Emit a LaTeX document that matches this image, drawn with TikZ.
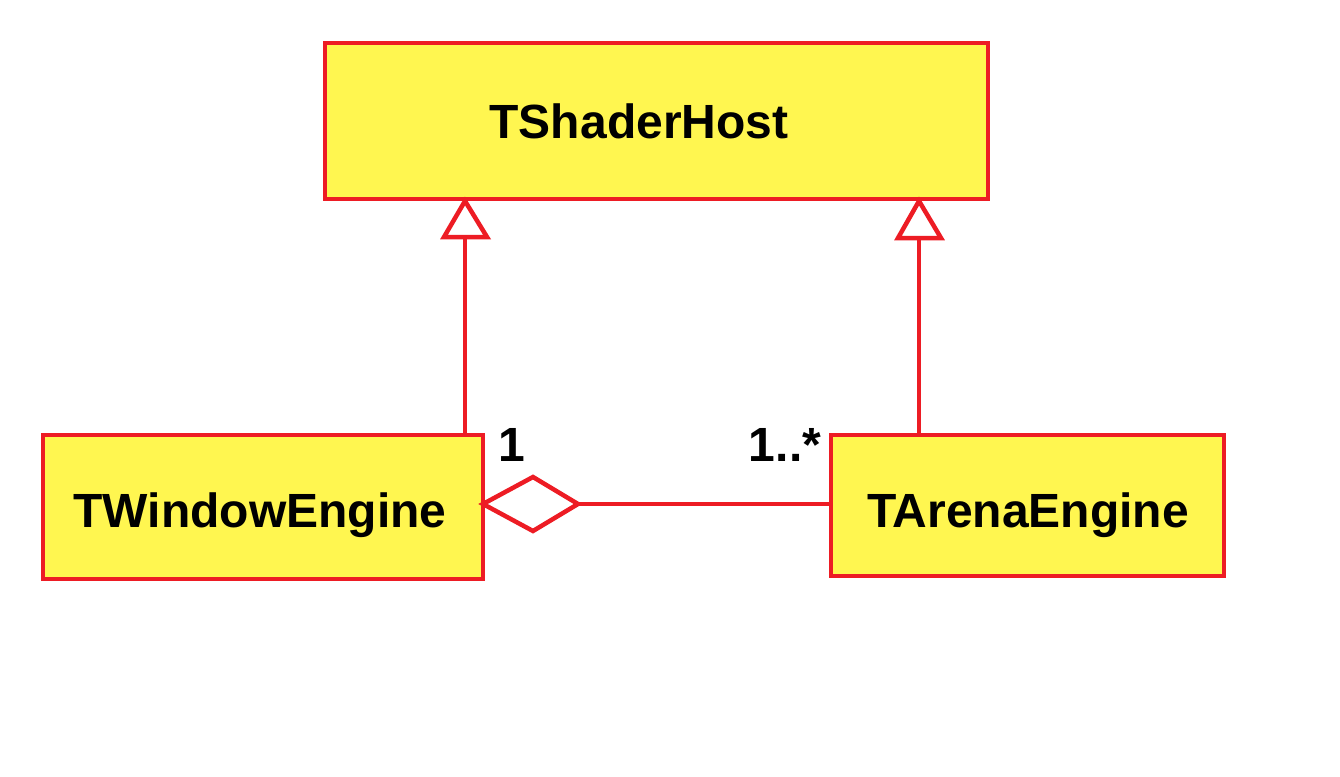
\documentclass[tikz,border=0pt]{standalone}
\usepackage{fontspec}
\setmainfont{Liberation Sans}
\definecolor{pred}{HTML}{ED1C24}
\definecolor{pyel}{HTML}{FFF650}
\begin{document}
\begin{tikzpicture}[x=1pt,y=-1pt,
  box/.style={draw=pred, fill=pyel, line width=4.5pt, inner sep=0pt},
  lbl/.style={font=\fontsize{48}{50}\selectfont\bfseries, anchor=base, inner sep=0pt},
  conn/.style={draw=pred, line width=4.5pt},
  tri/.style={draw=pred, line width=4.5pt, fill=white, line join=miter}]
\useasboundingbox (0,0) rectangle (1340,776);
\node[box, minimum width=663pt, minimum height=156pt] (host) at (656.5,121) {};
\node[box, minimum width=440pt, minimum height=144pt] (win) at (263,507) {};
\node[box, minimum width=393pt, minimum height=141pt] (arena) at (1027.5,505.5) {};
\node[lbl] (thost) at (639,138) {TShaderHost};
\node[lbl] (twin) at (260,527) {TWindowEngine};
\node[lbl] (tarena) at (1028,527) {TArenaEngine};
% inheritance left
\coordinate (la) at (465,201);
\coordinate (lb) at (465,237);
\draw[conn] (win.north -| lb) -- (lb);
\draw[tri] (la) -- (444,237) -- (487,237) -- cycle;
% inheritance right
\coordinate (ra) at (919,201);
\coordinate (rb) at (919,238);
\draw[conn] (arena.north -| rb) -- (rb);
\draw[tri] (ra) -- (898,238) -- (941,238) -- cycle;
% aggregation
\coordinate (dl) at (483,504);
\coordinate (dt) at (533,477);
\coordinate (dr) at (578,504);
\coordinate (db) at (533,531);
\draw[conn] (dr) -- (arena.west |- dr);
\draw[tri] (dl) -- (dt) -- (dr) -- (db) -- cycle;
\node[lbl] (m1) at (512,461) {1};
\node[lbl] (m2) at (785,461) {1..*};
\end{tikzpicture}
\end{document}
